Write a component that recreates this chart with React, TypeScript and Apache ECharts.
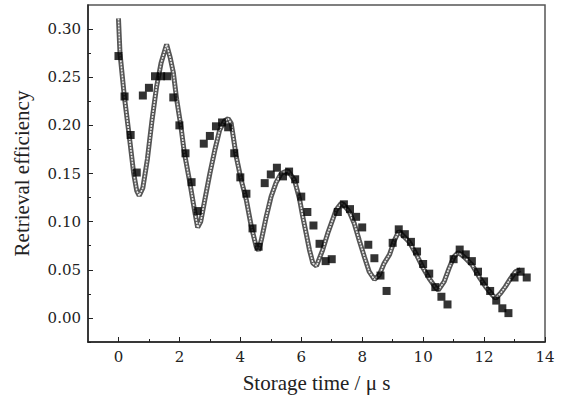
import React, { useEffect, useRef } from "react";
import * as echarts from "echarts";

// Measured retrieval efficiency (storage time in μs)
const timeUs: number[] = [
  0, 0.2, 0.4, 0.6, 0.8, 1.0, 1.2, 1.4, 1.6, 1.8, 2.0, 2.2, 2.4, 2.6, 2.8, 3.0, 3.2,
  3.4, 3.6, 3.8, 4.0, 4.2, 4.4, 4.6, 4.8, 5.0, 5.2, 5.4, 5.6, 5.8, 6.0, 6.2, 6.4, 6.6,
  6.8, 7.0, 7.2, 7.4, 7.6, 7.8, 8.0, 8.2, 8.4, 8.6, 8.8, 9.0, 9.2, 9.4, 9.6, 9.8, 10.0,
  10.2, 10.4, 10.6, 10.8, 11.0, 11.2, 11.4, 11.6, 11.8, 12.0, 12.2, 12.4, 12.6, 12.8,
  13.0, 13.2, 13.4,
];
const efficiency: number[] = [
  0.272, 0.230, 0.190, 0.151, 0.231, 0.239, 0.251, 0.251, 0.251, 0.229, 0.200, 0.171,
  0.141, 0.111, 0.181, 0.189, 0.199, 0.203, 0.198, 0.171, 0.146, 0.129, 0.093, 0.074,
  0.140, 0.149, 0.156, 0.147, 0.152, 0.144, 0.126, 0.110, 0.096, 0.077, 0.059, 0.061,
  0.110, 0.118, 0.113, 0.105, 0.094, 0.076, 0.062, 0.044, 0.028, 0.078, 0.092, 0.087,
  0.079, 0.069, 0.056, 0.046, 0.032, 0.022, 0.014, 0.061, 0.071, 0.066, 0.059, 0.048,
  0.038, 0.028, 0.018, 0.010, 0.005, 0.042, 0.048, 0.042,
];

// Fitted curve
const fitTime: number[] = [
  0, 0.05, 0.2, 0.35, 0.5, 0.6, 0.68, 0.8, 0.95, 1.1, 1.25, 1.4, 1.58,
  1.7, 1.8, 1.91, 2.05, 2.16, 2.34, 2.5, 2.6,
  2.7, 2.83, 3.0, 3.16, 3.32, 3.49, 3.6,
  3.7, 3.87, 4.03, 4.2, 4.36, 4.52, 4.6,
  4.69, 4.85, 5.01, 5.18, 5.34, 5.56,
  5.78, 5.94, 6.05, 6.16, 6.27, 6.38, 6.5,
  6.7, 6.87, 7.03, 7.14, 7.31, 7.38,
  7.58, 7.74, 7.9, 8.07, 8.23, 8.4,
  8.56, 8.72, 8.9, 9.05, 9.2,
  9.54, 9.76, 9.98, 10.2, 10.42, 10.5,
  10.69, 10.85, 11.01, 11.15,
  11.34, 11.61, 11.83, 12.05, 12.27, 12.38,
  12.54, 12.7, 12.87, 13.03, 13.2,
];
const fitValue: number[] = [
  0.311, 0.275, 0.228, 0.19, 0.15, 0.132, 0.127, 0.135, 0.165, 0.205, 0.24, 0.265, 0.284,
  0.27, 0.255, 0.227, 0.199, 0.172, 0.141, 0.111, 0.094,
  0.1, 0.122, 0.15, 0.174, 0.195, 0.205, 0.207,
  0.202, 0.167, 0.143, 0.122, 0.095, 0.074, 0.07,
  0.081, 0.105, 0.126, 0.141, 0.15, 0.153,
  0.143, 0.124, 0.105, 0.088, 0.0705, 0.057, 0.054,
  0.0705, 0.088, 0.102, 0.112, 0.119, 0.118,
  0.11, 0.098, 0.081, 0.0636, 0.048, 0.04,
  0.0446, 0.0567, 0.066, 0.08, 0.09,
  0.079, 0.067, 0.053, 0.041, 0.031, 0.029,
  0.0377, 0.0515, 0.0636, 0.068,
  0.0636, 0.055, 0.043, 0.0325, 0.0239, 0.0204,
  0.0256, 0.0325, 0.041, 0.048, 0.0498,
];

const xMajor: number[] = [0, 2, 4, 6, 8, 10, 12, 14];
const xMinor: number[] = [1, 3, 5, 7, 9, 11, 13];
const yMajor: number[] = [0, 0.05, 0.1, 0.15, 0.2, 0.25, 0.3];
const yMinor: number[] = [-0.025, 0.025, 0.075, 0.125, 0.175, 0.225, 0.275];

const FONT = "'Liberation Serif', 'Times New Roman', serif";
const TICK_FONT = "'DejaVu Serif', serif";

const near = (v: number, list: number[]) => list.some((m) => Math.abs(v - m) < 1e-6);

export default function App() {
  const ref = useRef<HTMLDivElement>(null);
  useEffect(() => {
    if (!ref.current) return;
    const chart = echarts.init(ref.current, null, { renderer: "svg" });
    const scatter = timeUs.map((t, i) => [t, efficiency[i]]);
    const fit = fitTime.map((t, i) => [t, fitValue[i]]);
    const axisLine = { show: true, onZero: false, lineStyle: { color: "#222", width: 1.5 } };
    const tickLabel = {
      fontFamily: TICK_FONT,
      fontSize: 15,
      color: "#222",
      showMinLabel: true,
      showMaxLabel: true,
      hideOverlap: false,
    };
    chart.setOption({
      animation: false,
      backgroundColor: "#fff",
      textStyle: { fontFamily: FONT },
      grid: {
        left: 88,
        top: 5,
        right: 19,
        bottom: 59,
        show: true,
        borderColor: "#555",
        borderWidth: 1.5,
        containLabel: false,
      },
      xAxis: [
        {
          type: "value",
          min: -1,
          max: 14,
          interval: 1,
          position: "bottom",
          axisLine,
          axisTick: { show: true, inside: true, length: 5, customValues: xMajor, lineStyle: { color: "#222" } },
          axisLabel: {
            ...tickLabel,
            margin: 7,
            interval: 0,
            formatter: (v: number) => (near(v, xMajor) ? String(Math.round(v)) : ""),
          },
          splitLine: { show: false },
          name: "Storage time / μ s",
          nameLocation: "middle",
          nameGap: 30,
          nameTextStyle: { fontFamily: FONT, fontSize: 21, color: "#222" },
        },
        {
          type: "value",
          min: -1,
          max: 14,
          position: "bottom",
          axisLine: { show: false, onZero: false },
          axisTick: { show: true, inside: true, length: 3, customValues: xMinor, lineStyle: { color: "#222" } },
          axisLabel: { show: false },
          splitLine: { show: false },
        },
      ],
      yAxis: [
        {
          type: "value",
          min: -0.025,
          max: 0.325,
          interval: 0.025,
          position: "left",
          axisLine,
          axisTick: { show: true, inside: true, length: 5, customValues: yMajor, lineStyle: { color: "#222" } },
          axisLabel: {
            ...tickLabel,
            margin: 7,
            interval: 0,
            formatter: (v: number) => (near(v, yMajor) ? Math.abs(v).toFixed(2) : ""),
          },
          splitLine: { show: false },
          name: "Retrieval efficiency",
          nameLocation: "middle",
          nameGap: 56,
          nameTextStyle: { fontFamily: FONT, fontSize: 21, color: "#222" },
        },
        {
          type: "value",
          min: -0.025,
          max: 0.325,
          position: "left",
          axisLine: { show: false, onZero: false },
          axisTick: { show: true, inside: true, length: 3, customValues: yMinor, lineStyle: { color: "#222" } },
          axisLabel: { show: false },
          splitLine: { show: false },
        },
      ],
      series: [
        {
          type: "line",
          data: fit,
          showSymbol: false,
          symbol: "none",
          lineStyle: { color: "#555", width: 5 },
          z: 2,
        },
        {
          type: "line",
          data: fit,
          showSymbol: false,
          symbol: "none",
          lineStyle: { color: "#e8e8e8", width: 1.6, type: [2, 1] },
          z: 3,
        },
        {
          type: "scatter",
          data: scatter,
          symbol: "rect",
          symbolSize: 8,
          itemStyle: { color: "#000" },
          z: 4,
        },
      ],
    });
    return () => chart.dispose();
  }, []);
  return (
    <div
      ref={ref}
      style={{ position: "fixed", left: 0, top: 0, width: 564, height: 401 }}
    />
  );
}
